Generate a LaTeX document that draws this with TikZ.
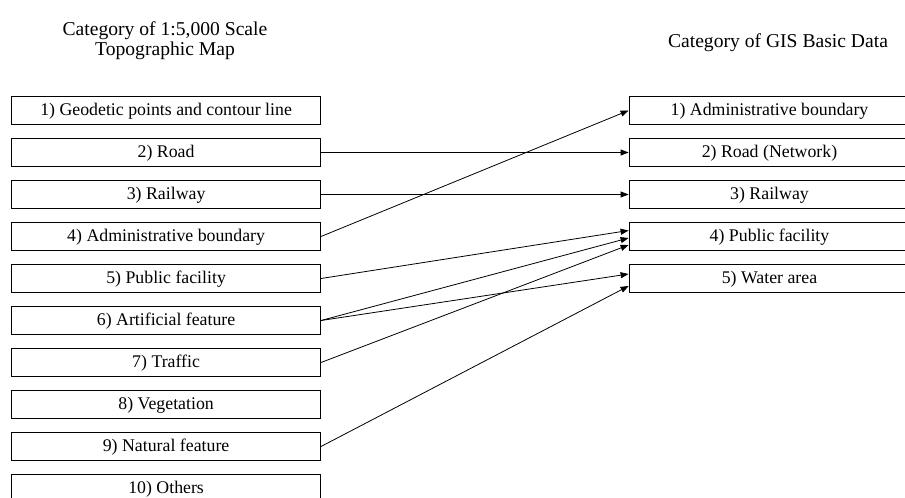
\documentclass[tikz,border=0pt]{standalone}
\usepackage{fontspec}
\setmainfont{Liberation Serif}
\usetikzlibrary{arrows.meta}
\begin{document}
\begin{tikzpicture}[x=1pt,y=-1pt,
  catbox/.style={draw=black,line width=0.8pt,minimum height=27.5pt,inner sep=0pt,
    font=\fontsize{17.8}{20}\selectfont,text height=12pt,text depth=2pt},
  lbox/.style={catbox,minimum width=309pt},
  rbox/.style={catbox,minimum width=281pt},
  ttl/.style={font=\fontsize{19.6}{20}\selectfont,align=center},
  link/.style={line width=0.8pt,-{Triangle[length=8pt,width=6pt]}}]
\useasboundingbox (0,0) rectangle (905,498);
\clip (0,0) rectangle (905,498);
\node[ttl] (tl) at (165,41) {Category of 1:5,000 Scale\\Topographic Map};
\node[ttl] (tr) at (778,43) {Category of GIS Basic Data};
\foreach \i/\t in {1/{1) Geodetic points and contour line},2/{2) Road},3/{3) Railway},
  4/{4) Administrative boundary},5/{5) Public facility},6/{6) Artificial feature},
  7/{7) Traffic},8/{8) Vegetation},9/{9) Natural feature},10/{10) Others}}
  \node[lbox] (l\i) at (166.1,{110.5+42*(\i-1)}) {\t};
\foreach \i/\t in {1/{1) Administrative boundary},2/{2) Road (Network)},3/{3) Railway},
  4/{4) Public facility},5/{5) Water area}}
  \node[rbox] (r\i) at (769.5,{110.5+42*(\i-1)}) {\t};
\draw[link] (l2.east) -- (r2.west);
\draw[link] (l3.east) -- (r3.west);
\draw[link] (l4.east) -- (r1.west);
\draw[link] (l5.east) -- ([yshift=6pt]r4.west);
\draw[link] (l6.east) -- ([yshift=-1.5pt]r4.west);
\draw[link] (l6.east) -- ([yshift=4.5pt]r5.west);
\draw[link] (l7.east) -- ([yshift=-8.5pt]r4.west);
\draw[link] (l9.east) -- ([yshift=-7.5pt]r5.west);
\end{tikzpicture}
\end{document}
